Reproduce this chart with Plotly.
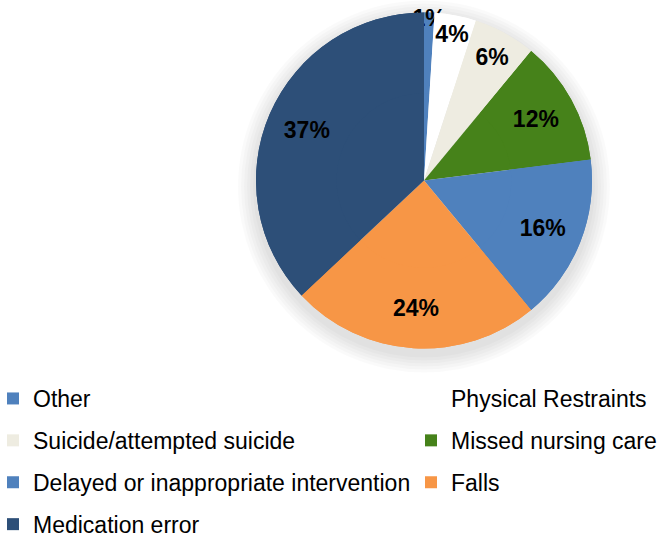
import plotly.graph_objects as go

# incident categories, clockwise from 12 o'clock
categories = ['Other', 'Physical Restraints', 'Suicide/attempted suicide',
              'Missed nursing care', 'Delayed or inappropriate intervention',
              'Falls', 'Medication error']
shares = [1, 4, 6, 12, 16, 24, 37]
slice_colors = ['#4F81BD', '#FFFFFF', '#EEECE1', '#46821A', '#4F81BD', '#F79646', '#2D4F78']

W, H = 664, 535
CX, CY, R = 424, 180.5, 168
FONT = 'Arial, Liberation Sans'


def pie_domain(radius, cy=CY):
    """Square domain (paper coords) for a pie of the given pixel radius."""
    return dict(x=[(CX - radius) / W, (CX + radius) / W],
                y=[max(0, 1 - (cy + radius) / H), min(1, 1 - (cy - radius) / H)])


fig = go.Figure()

# soft shadow behind the pie, built from a few faint discs
for grow in [18, 15, 12, 9, 6, 3]:
    fig.add_trace(go.Pie(values=[1], marker=dict(colors=['rgba(0,0,0,0.018)'], line=dict(width=0)),
                         domain=pie_domain(R + grow, CY + 6), textinfo='none', hoverinfo='skip',
                         showlegend=False, sort=False))

pie_common = dict(labels=categories, values=shares, sort=False, direction='clockwise',
                  rotation=0, marker=dict(colors=slice_colors, line=dict(width=0)),
                  domain=pie_domain(R), showlegend=False)

# full pie underneath, then a ring on top so the percentages sit out towards the rim
fig.add_trace(go.Pie(textinfo='none', hoverinfo='skip', **pie_common))
fig.add_trace(go.Pie(
    hole=0.52,
    texttemplate='%{percent:.0%}',
    textposition='inside',
    insidetextorientation='horizontal',
    textfont=dict(family=FONT, size=23, color='black', weight='bold'),
    hoverinfo='label+percent',
    **pie_common,
))

# legend laid out in two columns like the original (row-major order)
for i, (name, col) in enumerate(zip(categories, slice_colors)):
    fig.add_trace(go.Scatter(x=[None], y=[None], mode='markers', name=name,
                             marker=dict(symbol='square', size=12, color=col),
                             legend='legend' if i % 2 == 0 else 'legend2',
                             legendgroup=name))

legend_style = dict(orientation='v', xanchor='left', y=1 - 377 / H, yanchor='top',
                    font=dict(family=FONT, size=23, color='black'),
                    tracegroupgap=9, bgcolor='rgba(0,0,0,0)')

fig.update_layout(
    width=W, height=H,
    margin=dict(l=0, r=0, t=0, b=0, autoexpand=False),
    paper_bgcolor='white',
    plot_bgcolor='white',
    uniformtext=dict(minsize=23, mode='show'),
    font=dict(family=FONT, color='black'),
    xaxis=dict(visible=False),
    yaxis=dict(visible=False),
    legend=dict(x=-7 / W, **legend_style),
    legend2=dict(x=411 / W, **legend_style),
)

fig.write_html("out.html", config={'displayModeBar': False},
               post_script="document.body.style.margin='0';")
